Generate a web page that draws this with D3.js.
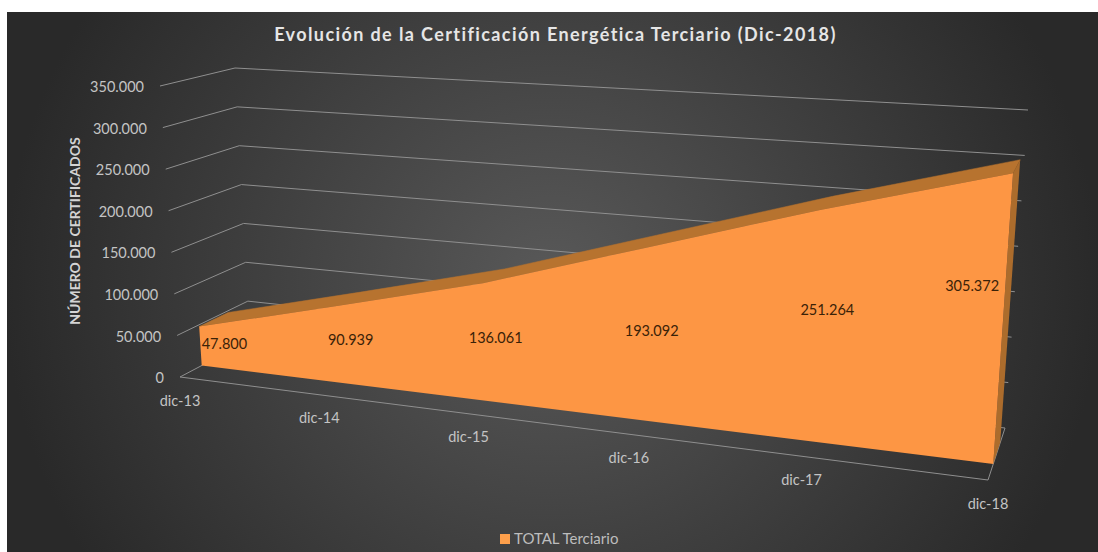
<!DOCTYPE html>
<html><head><meta charset="utf-8">
<script src="https://cdn.jsdelivr.net/npm/d3@7"></script>
<style>html,body{margin:0;padding:0;background:#fff;overflow:hidden}svg{display:block}text{font-family:Lato,"Open Sans",sans-serif}</style>
</head><body><div id="c"></div>
<script>
const categories = ["dic-13","dic-14","dic-15","dic-16","dic-17","dic-18"];
const totalTerciario = [47800,90939,136061,193092,251264,305372];
const valueTicks = [0,50000,100000,150000,200000,250000,300000,350000];
const seriesName = "TOTAL Terciario";
const chartTitle = "Evolución de la Certificación Energética Terciario (Dic-2018)";
const axisTitle = "NÚMERO DE CERTIFICADOS";

const W=1098,H=552;
const svg=d3.select("#c").append("svg").attr("width",W).attr("height",H);
const grad=svg.append("defs").append("radialGradient").attr("id","bg")
  .attr("gradientUnits","userSpaceOnUse").attr("cx",0).attr("cy",0).attr("r",1)
  .attr("gradientTransform","translate(552,285) scale(548,520)");
grad.append("stop").attr("offset",0).attr("stop-color","#595959");
grad.append("stop").attr("offset",1).attr("stop-color","#292929");
svg.append("rect").attr("x",7).attr("y",12).attr("width",W-7).attr("height",H-12).attr("fill","url(#bg)");

// 3D box corners of the plot, on screen
const box={fbl:[180,377],ftl:[160,86],bbl:[250,340],btl:[235,68],fbr:[988,480],ftr:[1010.5,140],bbr:[1005,428],btr:[1028,110]};
const DF=0.31,DB=0.72,K=1.2;
const uScale=d3.scalePoint().domain(categories).range([0,1]);
const vScale=d3.scaleLinear().domain([0,350000]).range([0,1]);
const mix=(a,b,t)=>[a[0]+(b[0]-a[0])*t,a[1]+(b[1]-a[1])*t];
function project(cat,val,d){
  const u=typeof cat==="string"?uScale(cat):cat;
  const t=u/(u+K*(1-u)), v=vScale(val);
  const fl=mix(box.fbl,box.ftl,v),fr=mix(box.fbr,box.ftr,v),bl=mix(box.bbl,box.btl,v),br=mix(box.bbr,box.btr,v);
  return mix(mix(fl,fr,t),mix(bl,br,t),d);
}
const fmt=d3.formatLocale({decimal:",",thousands:".",grouping:[3],currency:["","€"]}).format(",d");
const line=d3.line();
const gridC="#8f8f8f";

const g=svg.append("g");
// walls
valueTicks.forEach(v=>{
  g.append("path").attr("d",line([project(0,v,0),project(0,v,1),project(1,v,1)]))
   .attr("fill","none").attr("stroke",gridC).attr("stroke-width",1);
});
// floor
g.append("path").attr("d",line([project(0,0,0),project(1,0,0),project(1,0,1)]))
 .attr("fill","none").attr("stroke",gridC).attr("stroke-width",1);

// area solid
const topFront=categories.map((c,i)=>project(c,totalTerciario[i],DF));
const topBack=categories.map((c,i)=>project(c,totalTerciario[i],DB));
const last=categories[categories.length-1],lastV=totalTerciario[totalTerciario.length-1];
g.append("path").attr("d",line([...topFront,...topBack.slice().reverse()])+"Z").attr("fill","#b7732f").attr("stroke","#b7732f").attr("stroke-width",.5);
g.append("path").attr("d",line([project(last,lastV,DF),project(last,lastV,DB),project(last,0,DB),project(last,0,DF)])+"Z").attr("fill","#ac6c2c");
g.append("path").attr("d",line([project(categories[0],0,DF),...topFront,project(last,0,DF)])+"Z").attr("fill","#fd9644");

// value axis
g.selectAll(".yt").data(valueTicks).join("text").attr("class","yt")
 .attr("x",d=>project(0,d,0)[0]-16).attr("y",d=>project(0,d,0)[1]+2.5)
 .attr("text-anchor","end").attr("dominant-baseline","middle")
 .attr("font-size",14.5).attr("fill","#c4c4c4").text(d=>fmt(d));
// category axis
g.selectAll(".xt").data(categories).join("text").attr("class","xt")
 .attr("x",d=>project(d,0,0)[0]).attr("y",d=>project(d,0,0)[1]+25)
 .attr("text-anchor","middle").attr("dominant-baseline","middle")
 .attr("font-size",14.5).attr("fill","#c4c4c4").text(d=>d);
// data labels
const labelShift=[[24,-1],[14,-3],[12,-3],[9,-2],[12,-14],[-31,-31]];
g.selectAll(".dl").data(totalTerciario).join("text").attr("class","dl")
 .attr("x",(d,i)=>project(categories[i],d/2,DF)[0]+labelShift[i][0])
 .attr("y",(d,i)=>project(categories[i],d/2,DF)[1]+labelShift[i][1])
 .attr("text-anchor","middle").attr("dominant-baseline","middle")
 .attr("font-size",14.5).attr("fill","#3a2208").text(d=>fmt(d));

svg.append("text").attr("x",555.5).attr("y",36).attr("text-anchor","middle").attr("dominant-baseline","middle")
 .attr("font-size",18).attr("font-weight",700).attr("letter-spacing",1.4).attr("fill","#e6e6e6").text(chartTitle);
svg.append("text").attr("transform","translate(76,231) rotate(-90)").attr("text-anchor","middle").attr("dominant-baseline","middle")
 .attr("font-size",14).attr("font-weight",700).attr("fill","#d4d4d4").text(axisTitle);
svg.append("rect").attr("x",500).attr("y",534).attr("width",10).attr("height",10).attr("fill","#fd9f4b");
svg.append("text").attr("x",514).attr("y",540).attr("dominant-baseline","middle")
 .attr("font-size",15).attr("fill","#bdbdbd").text(seriesName);
</script></body></html>
